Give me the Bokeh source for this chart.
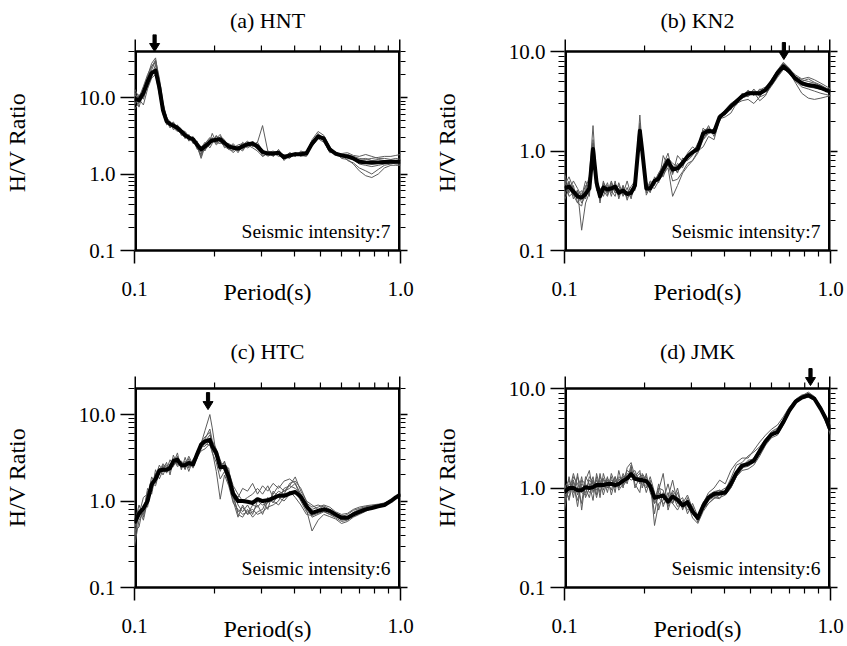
import math
from bokeh.plotting import figure
from bokeh.models import FixedTicker, LogAxis, PolyAnnotation, Label, Range1d, NumeralTickFormatter
from bokeh.layouts import column, row
from bokeh.embed import file_html
from bokeh.resources import INLINE

FONT = "Liberation Serif"

# ---------------- data ----------------
period = [0.100, 0.104, 0.108, 0.112, 0.116, 0.120, 0.124, 0.128, 0.132, 0.136,
          0.140, 0.145, 0.150, 0.155, 0.160, 0.166, 0.172, 0.178, 0.184, 0.192,
          0.196, 0.203, 0.210, 0.218, 0.226, 0.235, 0.245, 0.255, 0.266, 0.278,
          0.290, 0.303, 0.317, 0.332, 0.348, 0.365, 0.383, 0.402, 0.422, 0.443,
          0.465, 0.490, 0.515, 0.542, 0.570, 0.600, 0.632, 0.665, 0.700, 0.740,
          0.780, 0.825, 0.870, 0.920, 0.960, 1.000]

titles = ["(a) HNT", "(b) KN2", "(c) HTC", "(d) JMK"]
intensities = ["Seismic intensity:7", "Seismic intensity:7", "Seismic intensity:6", "Seismic intensity:6"]
y_tops = [40, 10, 20, 10]
peak_periods = [0.119, 0.668, 0.189, 0.841]
arrow_tips = [40, 8.3, 11.4, 10.7]

hnt_mean = [9.7, 9.2, 11.5, 16, 21, 22.5, 13.5, 6.8, 4.9, 4.5,
            4.3, 4.0, 3.6, 3.2, 3.0, 2.85, 2.4, 2.1, 2.3, 2.6,
            2.75, 2.8, 2.85, 2.55, 2.3, 2.2, 2.15, 2.3, 2.45, 2.5,
            2.3, 1.95, 1.85, 1.85, 1.9, 1.65, 1.75, 1.82, 1.82, 1.85,
            2.5, 3.1, 2.9, 2.1, 1.85, 1.75, 1.7, 1.6, 1.45, 1.42,
            1.4, 1.42, 1.44, 1.45, 1.45, 1.45]
hnt_1 = [12, 8.5, 13, 19, 28, 33, 16, 7.5, 5.2, 4.4,
         4.8, 3.9, 3.3, 3.5, 2.8, 3.1, 2.2, 1.8, 2.5, 3.0,
         2.6, 3.2, 2.6, 2.3, 2.1, 2.4, 2.0, 2.6, 2.3, 2.7,
         2.1, 1.8, 2.0, 1.7, 2.1, 1.6, 1.9, 1.7, 2.0, 1.9,
         2.7, 3.3, 2.8, 2.0, 1.9, 1.8, 1.5, 1.4, 1.2, 1.1,
         1.0, 1.15, 1.3, 1.35, 1.4, 1.4]
hnt_2 = [8, 10.5, 10, 14, 19, 27, 14, 6, 4.6, 4.9,
         4.1, 4.3, 3.9, 2.9, 3.3, 2.6, 2.7, 1.9, 2.1, 2.4,
         3.0, 2.5, 3.1, 2.8, 2.1, 2.0, 2.3, 2.1, 2.6, 2.3,
         2.6, 2.0, 1.7, 1.9, 1.8, 1.7, 1.6, 1.9, 1.7, 1.8,
         2.4, 3.0, 3.0, 2.2, 1.8, 1.7, 1.8, 1.7, 1.6, 1.55,
         1.6, 1.65, 1.7, 1.7, 1.75, 1.8]
hnt_3 = [10.5, 7.5, 12, 17, 23, 30, 15, 7.8, 5.6, 4.2,
         4.6, 3.7, 3.5, 3.4, 2.7, 2.9, 2.1, 2.3, 2.0, 2.8,
         2.9, 2.4, 2.7, 2.4, 2.5, 2.3, 1.9, 2.4, 2.2, 2.4,
         2.6, 4.3, 2.0, 1.7, 2.0, 1.5, 1.8, 1.8, 1.9, 1.8,
         2.6, 3.2, 2.7, 1.9, 1.95, 1.6, 1.55, 1.35, 1.1, 0.95,
         0.9, 1.0, 1.2, 1.3, 1.3, 1.3]
hnt_4 = [9, 11, 9.5, 15, 20, 24, 12, 6.5, 4.4, 4.7,
         3.8, 4.4, 3.4, 3.0, 3.2, 2.5, 2.6, 2.2, 2.6, 2.2,
         2.5, 3.1, 2.9, 2.2, 2.4, 2.1, 2.2, 2.0, 2.5, 2.6,
         2.2, 1.9, 2.0, 1.9, 1.7, 1.8, 1.7, 1.8, 1.85, 2.0,
         2.3, 2.9, 3.1, 2.3, 1.8, 1.85, 1.9, 1.75, 1.7, 1.8,
         1.7, 1.6, 1.6, 1.55, 1.6, 1.55]
hnt_5 = [11, 9.5, 8, 13, 18, 20, 11, 6.2, 5.0, 4.0,
         4.5, 4.1, 3.8, 3.1, 2.9, 3.0, 2.3, 1.7, 2.4, 2.7,
         3.4, 2.6, 2.5, 2.7, 2.2, 2.5, 2.1, 2.2, 2.4, 2.2,
         2.0, 1.7, 1.9, 2.0, 1.8, 1.6, 1.9, 1.75, 1.75, 1.7,
         2.5, 3.4, 2.8, 2.1, 1.75, 1.7, 1.6, 1.55, 1.5, 1.45,
         1.5, 1.55, 1.5, 1.45, 1.5, 1.5]
hnt_6 = [7, 8.5, 12.5, 18, 25, 31, 18, 8.5, 5.5, 4.8,
         4.0, 3.6, 3.7, 3.6, 3.1, 2.7, 2.5, 2.0, 2.2, 2.5,
         2.7, 2.9, 3.3, 2.5, 2.3, 2.2, 2.4, 2.5, 2.3, 2.4,
         2.1, 2.05, 1.8, 1.75, 1.95, 1.7, 1.65, 1.9, 1.8, 1.95,
         2.6, 2.9, 2.6, 1.95, 1.9, 1.75, 1.65, 1.55, 1.35, 1.3,
         1.25, 1.3, 1.35, 1.4, 1.35, 1.35]
hnt_7 = [13, 10, 14, 20, 26, 29, 14, 7, 4.7, 4.3,
         4.4, 4.2, 3.2, 3.3, 3.0, 2.8, 2.3, 1.6, 2.3, 2.9,
         2.8, 2.7, 2.8, 2.6, 2.2, 1.9, 2.2, 2.4, 2.7, 2.3,
         2.4, 1.7, 1.85, 1.75, 1.9, 1.75, 1.85, 1.7, 1.95, 1.9,
         2.8, 3.6, 3.2, 2.2, 1.9, 1.8, 1.7, 1.6, 1.55, 1.6,
         1.5, 1.45, 1.4, 1.45, 1.5, 1.5]

kn2_mean = [0.42, 0.44, 0.39, 0.35, 0.34, 0.37, 0.42, 1.05, 0.48, 0.35,
            0.43, 0.41, 0.42, 0.44, 0.38, 0.40, 0.37, 0.38, 0.45, 1.6,
            1.0, 0.42, 0.42, 0.5, 0.53, 0.65, 0.8, 0.65, 0.67, 0.76,
            0.88, 0.97, 1.05, 1.5, 1.6, 1.55, 2.2, 2.45, 2.8, 3.15,
            3.55, 3.8, 3.8, 3.8, 4.1, 4.9, 6.1, 7.1, 6.3, 5.3,
            4.8, 4.6, 4.5, 4.3, 4.1, 3.95]
kn2_1 = [0.5, 0.38, 0.45, 0.3, 0.28, 0.42, 0.55, 1.8, 0.5, 0.3,
         0.5, 0.36, 0.48, 0.4, 0.45, 0.35, 0.43, 0.33, 0.5, 2.3,
         1.1, 0.38, 0.48, 0.45, 0.6, 0.72, 0.95, 0.6, 0.75, 0.68,
         0.95, 1.1, 1.0, 1.7, 1.5, 1.7, 2.0, 2.6, 2.6, 3.3,
         3.4, 4.1, 3.6, 4.2, 4.0, 5.2, 6.5, 7.8, 6.8, 5.5,
         5.0, 5.3, 4.9, 4.6, 4.3, 4.1]
kn2_2 = [0.35, 0.5, 0.33, 0.4, 0.16, 0.3, 0.38, 0.9, 0.42, 0.4,
         0.38, 0.48, 0.35, 0.5, 0.33, 0.45, 0.32, 0.42, 0.4, 1.4,
         0.85, 0.45, 0.38, 0.55, 0.48, 0.9, 0.7, 0.72, 0.6, 0.85,
         0.8, 0.9, 1.2, 1.4, 1.8, 1.4, 2.3, 2.3, 3.0, 2.9,
         3.8, 3.5, 4.2, 3.5, 4.4, 4.6, 5.8, 6.8, 6.0, 5.0,
         4.4, 4.2, 4.0, 3.8, 3.7, 3.6]
kn2_3 = [0.45, 0.55, 0.42, 0.36, 0.4, 0.33, 0.46, 1.2, 0.55, 0.38,
         0.46, 0.38, 0.5, 0.38, 0.42, 0.37, 0.5, 0.36, 0.45, 1.8,
         1.2, 0.4, 0.45, 0.5, 0.6, 0.55, 0.75, 0.5, 0.52, 0.62,
         0.75, 0.8, 1.0, 1.1, 1.4, 1.3, 2.1, 2.2, 2.4, 3.0,
         3.2, 3.3, 3.0, 3.5, 3.7, 4.5, 5.5, 6.6, 6.2, 4.8,
         3.8, 3.4, 3.3, 3.4, 3.5, 3.6]
kn2_4 = [0.6, 0.4, 0.5, 0.42, 0.35, 0.45, 0.35, 1.0, 0.45, 0.42,
         0.35, 0.45, 0.4, 0.35, 0.48, 0.36, 0.38, 0.44, 0.5, 1.5,
         0.9, 0.5, 0.4, 0.48, 0.55, 0.62, 0.8, 0.58, 0.9, 0.78,
         0.85, 1.0, 1.15, 1.3, 1.5, 1.6, 2.2, 2.6, 3.0, 3.3,
         3.7, 3.9, 4.0, 3.9, 4.3, 5.0, 6.0, 7.4, 6.6, 5.8,
         5.3, 5.5, 5.2, 4.8, 4.5, 4.2]
kn2_5 = [0.32, 0.42, 0.36, 0.3, 0.35, 0.5, 0.4, 1.1, 0.45, 0.32,
         0.48, 0.42, 0.38, 0.46, 0.35, 0.45, 0.36, 0.35, 0.45, 1.7,
         1.1, 0.36, 0.44, 0.42, 0.5, 0.58, 0.68, 0.35, 0.45, 0.6,
         0.7, 0.8, 0.95, 1.3, 1.6, 1.5, 2.3, 2.4, 2.7, 3.1,
         3.5, 3.7, 3.9, 3.2, 3.6, 4.8, 6.3, 7.6, 6.7, 5.2,
         4.6, 4.4, 4.3, 4.2, 4.0, 3.9]
kn2_6 = [0.4, 0.48, 0.4, 0.33, 0.38, 0.38, 0.44, 1.3, 0.5, 0.36,
         0.42, 0.38, 0.44, 0.42, 0.36, 0.42, 0.38, 0.4, 0.42, 1.9,
         1.0, 0.43, 0.43, 0.52, 0.5, 0.7, 0.85, 0.75, 0.7, 0.8,
         0.9, 1.0, 1.05, 1.6, 1.7, 1.55, 2.3, 2.5, 2.9, 3.2,
         3.6, 3.8, 3.7, 4.1, 4.4, 5.0, 6.2, 7.2, 6.4, 5.4,
         4.9, 4.7, 4.6, 4.5, 4.3, 4.0]
kn2_7 = [0.55, 0.35, 0.38, 0.4, 0.3, 0.35, 0.5, 0.85, 0.4, 0.42,
         0.4, 0.35, 0.46, 0.38, 0.4, 0.4, 0.34, 0.38, 0.42, 1.3,
         0.95, 0.4, 0.5, 0.46, 0.58, 0.66, 0.78, 0.68, 0.62, 0.72,
         0.92, 0.95, 1.1, 1.4, 1.5, 1.6, 2.1, 2.4, 2.8, 3.2,
         3.4, 3.6, 3.8, 3.6, 4.0, 4.7, 5.7, 6.9, 6.3, 5.6,
         5.2, 5.0, 4.8, 4.5, 4.2, 4.0]

htc_mean = [0.56, 0.72, 0.82, 1.0, 1.55, 1.8, 2.25, 2.3, 2.3, 2.4,
            2.9, 3.0, 2.6, 2.6, 2.75, 2.65, 3.5, 4.5, 4.9, 5.1,
            4.3, 3.6, 2.45, 2.5, 1.9, 1.2, 1.0, 1.0, 0.98, 0.95,
            1.05, 1.0, 1.02, 1.08, 1.15, 1.15, 1.22, 1.27, 1.12, 0.87,
            0.73, 0.77, 0.8, 0.77, 0.7, 0.64, 0.64, 0.7, 0.75, 0.8,
            0.83, 0.87, 0.9, 1.0, 1.1, 1.19]
htc_1 = [0.3, 0.6, 0.75, 1.3, 1.4, 2.1, 2.0, 2.6, 2.2, 2.7,
         2.5, 3.3, 2.4, 2.8, 2.5, 3.0, 3.6, 4.6, 6.5, 10,
         7.0, 3.4, 2.2, 2.9, 1.8, 1.3, 1.1, 1.4, 1.3, 1.6,
         1.2, 1.5, 1.3, 1.6, 1.4, 1.7, 1.8, 1.6, 1.2, 0.9,
         0.8, 0.85, 0.9, 0.85, 0.75, 0.7, 0.72, 0.8, 0.85, 0.88,
         0.9, 0.92, 0.95, 1.02, 1.1, 1.2]
htc_2 = [0.55, 0.9, 0.65, 1.1, 1.9, 1.6, 2.4, 2.0, 2.5, 2.2,
         3.4, 2.6, 2.8, 2.3, 3.1, 2.4, 3.3, 4.2, 4.6, 4.4,
         3.8, 2.2, 1.05, 2.0, 1.5, 0.95, 0.8, 0.7, 0.75, 0.8,
         0.7, 0.75, 0.85, 0.9, 1.0, 1.4, 1.5, 1.9, 1.3, 1.0,
         0.65, 0.7, 0.75, 0.7, 0.68, 0.6, 0.62, 0.7, 0.78, 0.82,
         0.85, 0.88, 0.9, 1.0, 1.1, 1.2]
htc_3 = [0.45, 0.5, 0.9, 0.85, 1.6, 1.5, 2.2, 2.7, 2.4, 2.6,
         2.7, 3.6, 2.3, 3.2, 2.4, 2.9, 3.1, 4.8, 5.5, 6.2,
         4.5, 3.4, 2.8, 2.4, 2.0, 1.2, 0.7, 0.65, 0.8, 0.65,
         0.75, 0.8, 1.1, 0.95, 1.2, 1.3, 1.4, 1.6, 1.1, 0.8,
         0.45, 0.6, 0.7, 0.66, 0.62, 0.55, 0.58, 0.65, 0.7, 0.76,
         0.82, 0.86, 0.92, 1.0, 1.08, 1.18]
htc_4 = [0.6, 0.7, 1.1, 1.2, 1.3, 2.3, 1.8, 2.3, 2.8, 2.0,
         3.0, 2.7, 2.9, 2.6, 3.3, 2.6, 3.6, 4.3, 4.3, 5.0,
         4.0, 3.2, 2.6, 2.8, 2.2, 1.5, 1.2, 1.0, 1.1, 1.2,
         1.4, 1.2, 1.5, 1.1, 1.3, 1.2, 1.6, 1.7, 1.4, 1.0,
         0.9, 0.8, 0.88, 0.8, 0.72, 0.66, 0.7, 0.78, 0.82, 0.86,
         0.88, 0.9, 0.94, 1.02, 1.12, 1.2]
htc_5 = [0.4, 0.8, 0.6, 1.0, 1.7, 1.9, 2.6, 2.2, 2.3, 3.0,
         2.6, 2.8, 2.5, 2.9, 2.2, 3.0, 3.4, 4.0, 4.9, 5.8,
         4.7, 3.6, 2.4, 2.6, 2.4, 1.1, 0.75, 0.85, 0.7, 0.9,
         0.85, 1.0, 0.8, 1.3, 1.1, 1.0, 1.2, 1.3, 1.0, 0.75,
         0.7, 0.75, 0.8, 0.72, 0.66, 0.62, 0.64, 0.72, 0.78, 0.82,
         0.86, 0.88, 0.92, 1.0, 1.1, 1.2]
htc_6 = [0.5, 0.65, 0.8, 1.2, 1.5, 1.7, 2.1, 2.5, 2.1, 2.5,
         3.1, 2.5, 2.7, 2.4, 2.8, 2.8, 3.8, 4.4, 5.2, 6.8,
         5.0, 4.0, 3.0, 2.2, 1.9, 1.4, 0.9, 0.75, 0.9, 0.7,
         1.0, 0.9, 0.95, 1.2, 1.5, 1.3, 1.5, 1.4, 1.2, 0.95,
         0.85, 0.9, 0.85, 0.78, 0.7, 0.68, 0.66, 0.74, 0.8, 0.84,
         0.86, 0.9, 0.93, 1.01, 1.1, 1.2]
htc_7 = [0.35, 0.75, 0.7, 1.4, 1.2, 2.0, 2.3, 2.4, 2.6, 2.3,
         2.8, 3.2, 2.6, 2.7, 2.6, 2.5, 3.2, 3.8, 4.0, 4.6,
         3.6, 2.8, 1.8, 2.2, 1.6, 1.0, 0.65, 0.9, 0.7, 0.75,
         0.9, 0.7, 1.0, 1.0, 0.9, 1.1, 1.3, 1.1, 0.9, 0.7,
         0.68, 0.72, 0.76, 0.7, 0.64, 0.58, 0.6, 0.68, 0.74, 0.8,
         0.84, 0.88, 0.92, 1.0, 1.1, 1.19]

jmk_mean = [0.91, 1.0, 1.0, 0.95, 0.95, 1.02, 1.0, 1.02, 1.07, 1.07,
            1.07, 1.1, 1.1, 1.07, 1.1, 1.18, 1.25, 1.38, 1.24, 1.2,
            1.2, 1.17, 1.05, 0.8, 0.82, 0.84, 0.73, 0.82, 0.76, 0.67,
            0.72, 0.58, 0.5, 0.66, 0.8, 0.87, 0.88, 0.9, 1.1, 1.42,
            1.68, 1.75, 1.88, 2.35, 2.95, 3.45, 3.65, 4.6, 6.0, 7.4,
            8.1, 8.55, 7.9, 6.2, 5.0, 3.8]
jmk_1 = [0.7, 1.3, 0.8, 1.4, 0.6, 1.2, 1.5, 0.9, 1.3, 0.8,
         1.4, 1.0, 1.3, 0.9, 1.5, 1.0, 1.6, 1.8, 1.3, 1.5,
         1.0, 1.4, 0.9, 0.7, 1.1, 0.65, 0.9, 0.7, 1.0, 0.6,
         0.8, 0.55, 0.47, 0.7, 0.9, 1.0, 1.2, 1.1, 1.5, 1.8,
         2.0, 2.0, 2.4, 2.9, 3.4, 3.9, 4.3, 5.2, 6.5, 7.8,
         8.6, 8.9, 8.2, 6.6, 5.3, 4.2]
jmk_2 = [1.1, 0.75, 1.2, 0.85, 1.3, 0.8, 1.0, 1.3, 0.85, 1.4,
         0.95, 1.3, 0.85, 1.2, 1.0, 1.4, 1.1, 1.6, 1.1, 0.9,
         1.4, 1.2, 1.1, 0.55, 0.95, 1.4, 0.6, 0.85, 0.65, 0.7,
         0.85, 0.62, 0.52, 0.6, 0.75, 0.82, 0.8, 0.85, 1.0, 1.3,
         1.5, 1.55, 1.7, 2.1, 2.7, 3.2, 3.4, 4.3, 5.7, 7.1,
         8.0, 8.6, 7.8, 6.0, 4.6, 3.4]
jmk_3 = [0.6, 1.1, 1.05, 0.75, 1.1, 1.0, 0.8, 1.2, 1.0, 1.2,
         0.85, 1.2, 1.05, 1.3, 0.95, 1.1, 1.4, 1.3, 1.4, 1.2,
         1.3, 0.9, 1.2, 0.42, 0.7, 0.75, 1.1, 0.7, 0.6, 0.75,
         0.6, 0.66, 0.45, 0.62, 0.7, 0.8, 0.78, 0.95, 1.25, 1.7,
         1.8, 2.1, 2.3, 2.6, 3.1, 3.7, 4.0, 4.9, 6.1, 7.6,
         8.4, 9.2, 8.3, 6.4, 5.0, 3.9]
jmk_4 = [0.85, 0.9, 1.4, 1.0, 0.7, 1.3, 1.1, 0.75, 1.4, 1.0,
         1.25, 0.9, 1.4, 1.1, 1.2, 1.3, 1.2, 1.5, 1.2, 1.3,
         1.1, 1.0, 1.3, 0.9, 0.6, 0.9, 0.8, 1.2, 0.7, 0.65,
         0.75, 0.55, 0.5, 0.72, 0.85, 0.92, 0.95, 0.92, 1.05, 1.35,
         1.6, 1.65, 1.8, 2.3, 2.8, 3.3, 3.6, 4.4, 5.8, 7.2,
         8.0, 8.4, 7.7, 6.1, 4.8, 3.6]
jmk_5 = [1.0, 1.2, 0.9, 1.3, 1.0, 0.9, 1.2, 1.1, 0.95, 1.3,
         1.1, 1.0, 1.2, 1.15, 1.3, 1.2, 1.5, 1.4, 1.5, 1.1,
         1.25, 1.3, 0.95, 0.8, 0.9, 0.8, 0.7, 0.95, 0.8, 0.7,
         0.65, 0.6, 0.48, 0.65, 0.8, 0.9, 0.95, 0.85, 1.0, 1.3,
         1.55, 1.8, 2.0, 2.5, 3.0, 3.5, 3.8, 4.7, 6.3, 7.6,
         8.4, 8.8, 8.0, 6.3, 5.1, 3.9]
jmk_6 = [0.75, 1.0, 1.15, 0.65, 1.2, 1.1, 0.9, 1.0, 1.2, 0.9,
         1.2, 1.15, 0.95, 1.3, 1.0, 1.3, 1.3, 1.2, 1.25, 1.4,
         1.15, 1.05, 1.0, 0.7, 0.8, 0.7, 0.75, 0.7, 0.9, 0.62,
         0.7, 0.5, 0.44, 0.58, 0.7, 0.78, 0.85, 0.9, 1.15, 1.5,
         1.7, 1.7, 1.9, 2.4, 2.9, 3.6, 3.9, 4.8, 6.2, 7.3,
         7.9, 8.2, 7.6, 6.0, 4.7, 3.5]
jmk_7 = [0.95, 0.8, 1.3, 1.1, 0.9, 0.85, 1.3, 1.15, 0.8, 1.15,
         1.05, 1.25, 1.1, 1.0, 1.25, 1.05, 1.2, 1.7, 1.0, 1.3,
         1.35, 1.15, 1.1, 0.75, 1.0, 0.95, 0.65, 0.9, 0.72, 0.8,
         0.55, 0.7, 0.52, 0.68, 0.82, 0.86, 0.92, 1.0, 1.1, 1.4,
         1.6, 1.9, 1.95, 2.2, 3.0, 3.5, 3.7, 4.5, 6.0, 7.5,
         8.3, 8.7, 8.0, 6.2, 4.9, 3.7]

means = [hnt_mean, kn2_mean, htc_mean, jmk_mean]
records = [
    [hnt_1, hnt_2, hnt_3, hnt_4, hnt_5, hnt_6, hnt_7],
    [kn2_1, kn2_2, kn2_3, kn2_4, kn2_5, kn2_6, kn2_7],
    [htc_1, htc_2, htc_3, htc_4, htc_5, htc_6, htc_7],
    [jmk_1, jmk_2, jmk_3, jmk_4, jmk_5, jmk_6, jmk_7],
]

# ---------------- layout ----------------
widths = [430, 415, 430, 415]
heights = [325, 325, 320, 320]
side_borders = [(134, 30, 75), (134, 15, 75), (134, 30, 58), (134, 15, 58)]  # left, right, bottom
box_tops = [51, 51, 63, 63]        # top of the drawn box inside each figure
box_heights = [199, 199, 199, 199]
headroom = [17, 17, 21, 21]        # extra frame space above the box (for the peak arrows)
title_standoffs = [4, 4, 8, 8]


def style_axis(ax, tick_out, minor_out):
    ax.axis_line_color = "black"
    ax.axis_line_width = 2.5
    ax.major_tick_line_color = "black"
    ax.minor_tick_line_color = "black"
    ax.major_tick_line_width = 1.5
    ax.minor_tick_line_width = 1.2
    ax.major_tick_in = 0
    ax.minor_tick_in = 0
    ax.major_tick_out = tick_out
    ax.minor_tick_out = minor_out


def arrow_shape(x0, y_tip, px_x, px_y, length=17.0, head_len=8.0, head_hw=5.0, shaft_hw=1.6):
    def fx(d):
        return x0 * 10 ** (d / px_x)

    def fy(d):
        return y_tip * 10 ** (d / px_y)

    xs = [fx(0), fx(-head_hw), fx(-shaft_hw), fx(-shaft_hw), fx(shaft_hw), fx(shaft_hw), fx(head_hw)]
    ys = [fy(0), fy(head_len), fy(head_len), fy(length), fy(length), fy(head_len), fy(head_len)]
    return xs, ys


def build(i):
    left, right, bottom = side_borders[i]
    y_top = y_tops[i]
    frame_w = widths[i] - left - right
    px_x = frame_w / math.log10(1.0 / 0.1)
    px_y = box_heights[i] / math.log10(y_top / 0.1)
    y_end = y_top * 10 ** (headroom[i] / px_y)

    p = figure(width=widths[i], height=heights[i], x_axis_type="log", y_axis_type="log",
               x_range=Range1d(0.1, 1.0), y_range=Range1d(0.1, y_end),
               output_backend="svg", toolbar_location=None,
               min_border_left=left, min_border_right=right,
               min_border_top=box_tops[i] - headroom[i], min_border_bottom=bottom,
               title=titles[i])
    p.title.align = "center"
    p.title.text_font = FONT
    p.title.text_font_size = "22px"
    p.title.text_font_style = "normal"
    p.title.text_color = "black"
    p.title.standoff = title_standoffs[i]
    p.grid.visible = False
    p.outline_line_color = None

    xt = FixedTicker(ticks=[0.1, 1.0], minor_ticks=[m / 10 for m in range(2, 10)])
    ymin = [m * 10.0 ** e for e in (-1, 0, 1) for m in range(2, 10) if m * 10.0 ** e <= y_top * 1.001]
    yt = FixedTicker(ticks=[0.1, 1.0, 10.0], minor_ticks=ymin)

    xa = p.xaxis[0]
    ya = p.yaxis[0]
    xa.ticker = xt
    ya.ticker = yt
    for ax in (xa, ya):
        style_axis(ax, 13, 6)
        ax.formatter = NumeralTickFormatter(format="0.0")
        ax.major_label_text_font = FONT
        ax.major_label_text_font_size = "21px"
        ax.major_label_text_color = "black"
        ax.axis_label_text_font = FONT
        ax.axis_label_text_font_size = "24px"
        ax.axis_label_text_font_style = "normal"
        ax.axis_label_text_color = "black"
    xa.axis_label = "Period(s)"
    xa.major_label_standoff = 18
    xa.axis_label_standoff = -20
    ya.axis_label = "H/V Ratio"
    ya.major_tick_out = 14
    ya.major_label_standoff = 5
    ya.axis_label_standoff = 46
    ya.axis_line_color = None

    yt2 = FixedTicker(ticks=[0.1, 1.0, 10.0], minor_ticks=ymin)
    right_ax = LogAxis(ticker=yt2, major_label_text_font_size="1px", major_label_text_color=None,
                       major_label_standoff=0)
    style_axis(right_ax, 7, 5)
    right_ax.axis_line_color = None
    p.add_layout(right_ax, "right")

    # box edges (left, right, top) and the outward ticks along the top edge
    top_out = y_top * 10 ** (12 / px_y)
    p.line([0.1, 0.1], [0.1, y_top], line_color="black", line_width=5)
    p.line([1.0, 1.0], [0.1, y_top], line_color="black", line_width=5)
    p.line([0.1, 1.0], [y_top, y_top], line_color="black", line_width=2.5)
    top_minor = [m / 10 for m in range(2, 10)]
    p.segment(x0=top_minor, y0=[y_top] * len(top_minor), x1=top_minor,
              y1=[y_top * 10 ** (6 / px_y)] * len(top_minor), line_color="black", line_width=1.2)
    p.segment(x0=[0.1, 1.0], y0=[y_top, y_top], x1=[0.1, 1.0], y1=[top_out, top_out],
              line_color="black", line_width=3)

    for rec in records[i]:
        p.line(period, rec, line_color="#5c5c5c", line_width=1)
    p.line(period, means[i], line_color="black", line_width=4, line_join="round")

    xs, ys = arrow_shape(peak_periods[i], arrow_tips[i], px_x, px_y)
    p.add_layout(PolyAnnotation(xs=xs, ys=ys, fill_color="black", fill_alpha=1.0,
                                line_color="black", line_width=1, line_alpha=1.0))

    p.add_layout(Label(x=1.0, y=0.1, x_offset=-10, y_offset=19, text=intensities[i],
                       text_align="right", text_baseline="alphabetic",
                       text_font=FONT, text_font_size="19.5px", text_color="black"))
    return p


panels = [build(i) for i in range(4)]
layout = column(row(panels[0], panels[1]), row(panels[2], panels[3]))

open("out.html", "w").write(file_html(layout, INLINE))
